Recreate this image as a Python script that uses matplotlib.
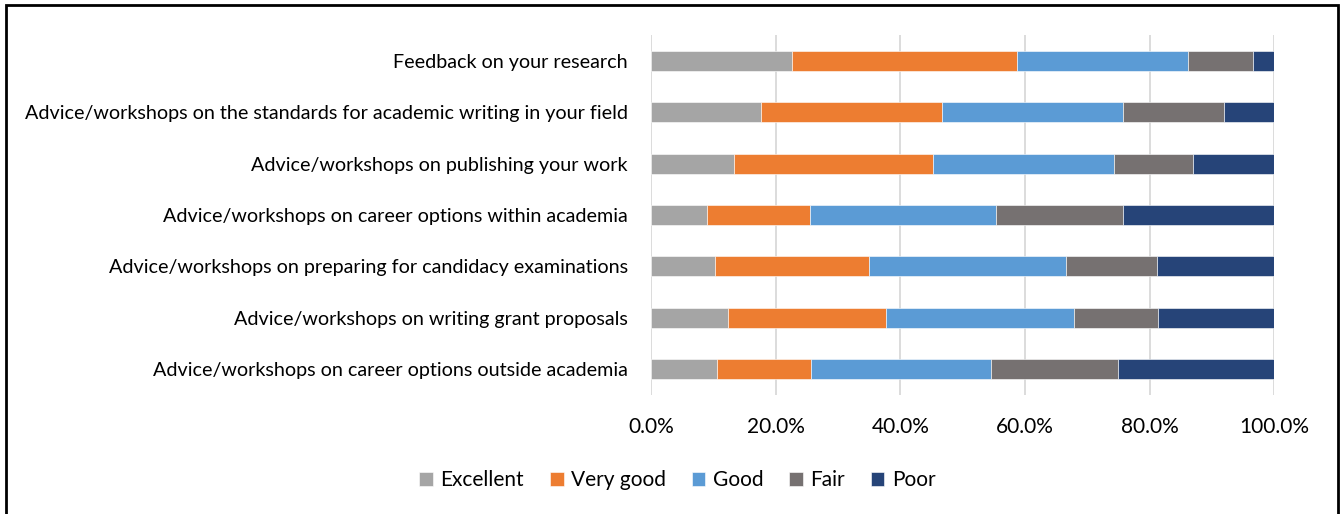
import matplotlib
matplotlib.use("Agg")
import matplotlib.pyplot as plt
import numpy as np
from matplotlib.patches import Rectangle

plt.rcParams['font.family'] = ['Lato', 'DejaVu Sans']

# categories, top to bottom as in the chart
categories = [
    "Feedback on your research",
    "Advice/workshops on the standards for academic writing in your field",
    "Advice/workshops on publishing your work",
    "Advice/workshops on career options within academia",
    "Advice/workshops on preparing for candidacy examinations",
    "Advice/workshops on writing grant proposals",
    "Advice/workshops on career options outside academia",
]

# shares (%)
excellent = [22.6, 17.6, 13.2, 8.9, 10.2, 12.3, 10.5]
very_good = [36.1, 29.1, 32.1, 16.6, 24.8, 25.3, 15.2]
good = [27.4, 29.1, 28.9, 29.9, 31.5, 30.2, 28.8]
fair = [10.5, 16.1, 12.7, 20.4, 14.6, 13.6, 20.4]
poor = [3.4, 8.1, 13.1, 24.2, 18.9, 18.6, 25.1]

series_names = ["Excellent", "Very good", "Good", "Fair", "Poor"]
colors = ["#A5A5A5", "#ED7D31", "#5B9BD5", "#767171", "#264478"]

fig = plt.figure(figsize=(13.44, 5.14), dpi=100)
ax = fig.add_axes([0.4846, 0.2315, 0.4635, 0.7005])

y = np.arange(len(categories))
left = np.zeros(len(categories))
for name, vals, c in zip(series_names, [excellent, very_good, good, fair, poor], colors):
    vals = np.array(vals)
    ax.barh(y, vals, left=left, height=0.39, color=c, label=name,
            edgecolor='white', linewidth=0.4, zorder=3)
    left += vals

ax.set_ylim(len(categories) - 0.5, -0.5)
ax.set_xlim(0, 100)
ax.set_yticks(y)
ax.set_yticklabels(categories, fontsize=14.2)
ax.set_xticks(np.arange(0, 101, 20))
ax.set_xticklabels([f"{v:.1f}%" for v in np.arange(0, 101, 20)], fontsize=15)
ax.tick_params(length=0, pad=17, axis='y')
ax.tick_params(length=0, pad=16, axis='x')
ax.xaxis.grid(True, color='#D9D9D9', linewidth=1.3, zorder=0)
for s in ax.spines.values():
    s.set_visible(False)

leg = fig.legend(loc='center', bbox_to_anchor=(0.504, 0.066), ncol=5, frameon=False,
                 fontsize=15, handlelength=0.65, handleheight=0.65,
                 handletextpad=0.35, columnspacing=1.25)

fig.patches.append(Rectangle((6 / 1344, -0.05), (1338 - 6) / 1344, 1 - 5 / 514 + 0.05,
                             transform=fig.transFigure, fill=False,
                             edgecolor='black', linewidth=2))

fig.savefig("out.png", dpi=100)
